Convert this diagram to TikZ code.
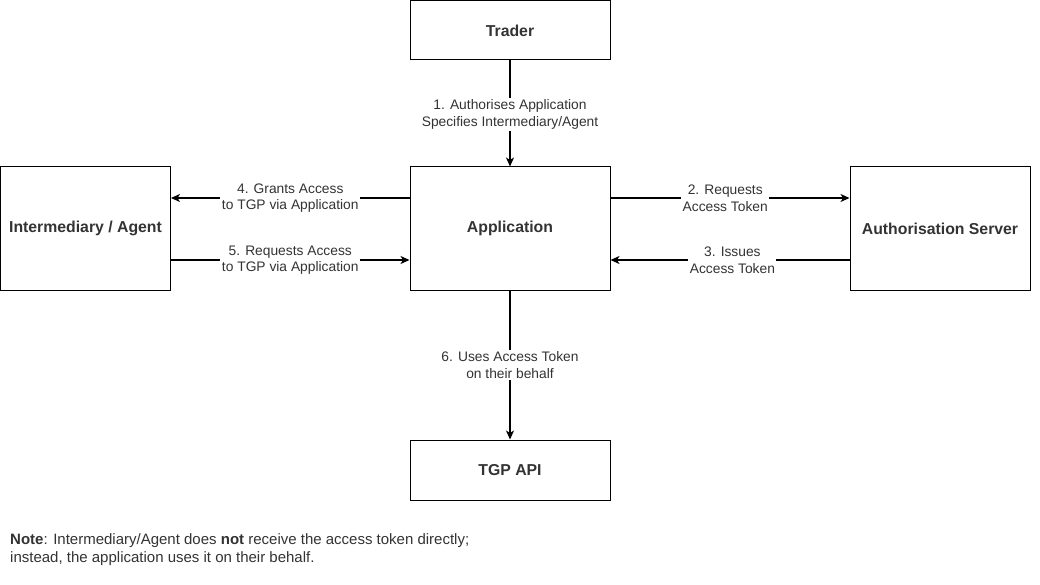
\documentclass[tikz,border=0pt]{standalone}
\usepackage{fontspec}
\setmainfont{Liberation Sans}
\usetikzlibrary{arrows.meta}
\definecolor{txt}{HTML}{333333}
\begin{document}
\begin{tikzpicture}[x=1pt,y=-1pt,
  box/.style={draw=black,line width=1pt,fill=white,inner sep=0pt,text=txt,font=\fontsize{15.8}{18}\selectfont\bfseries},
  conn/.style={line width=1.4pt,-{Stealth[length=9pt,width=8pt,inset=2.5pt]}},
  lbl/.style={fill=white,text=txt,font=\fontsize{13.8}{16.5}\selectfont,align=center,inner sep=1.5pt}]
\useasboundingbox (0,0) rectangle (1040,585);
\node[box,minimum width=200pt,minimum height=59pt] (trader) at (510,30.5) {Trader};
\node[box,minimum width=200pt,minimum height=123pt] (app) at (510,228.5) {Application};
\node[box,minimum width=170pt,minimum height=123pt] (inter) at (85.5,228.5) {Intermediary / Agent};
\node[box,minimum width=180pt,minimum height=123pt] (auth) at (940,228.5) {Authorisation Server};
\node[box,minimum width=200pt,minimum height=60pt] (tgp) at (510,470) {TGP API};
\coordinate (aL1) at ([yshift=30.5pt]app.west);
\coordinate (aL2) at ([yshift=-31.5pt]app.west);
\coordinate (aR1) at ([yshift=30.5pt]app.east);
\coordinate (aR2) at ([yshift=-31.5pt]app.east);
\draw[conn] (trader) -- node[lbl,pos=0.51] (l1) {1. Authorises Application\\Specifies Intermediary/Agent} (app);
\draw[conn] (aL1) -- node[lbl,pos=0.5] (l4) {4. Grants Access\\to TGP via Application} (aL1 -| inter.east);
\draw[conn] (aL2 -| inter.east) -- node[lbl,pos=0.5] (l5) {5. Requests Access\\to TGP via Application} (aL2);
\draw[conn] (aR1) -- node[lbl,pos=0.48] (l2) {2. Requests\\Access Token} (aR1 -| auth.west);
\draw[conn] (aR2 -| auth.west) -- node[lbl,pos=0.49] (l3) {3. Issues\\Access Token} (aR2);
\draw[conn] (app) -- node[lbl,pos=0.5] (l6) {6. Uses Access Token\\on their behalf} (tgp);
\node[anchor=north west,align=left,text=txt,font=\fontsize{15}{18}\selectfont,inner sep=0pt] (note) at (10,533)
  {\textbf{Note}: Intermediary/Agent does \textbf{not} receive the access token directly;\\instead, the application uses it on their behalf.};
\end{tikzpicture}
\end{document}
